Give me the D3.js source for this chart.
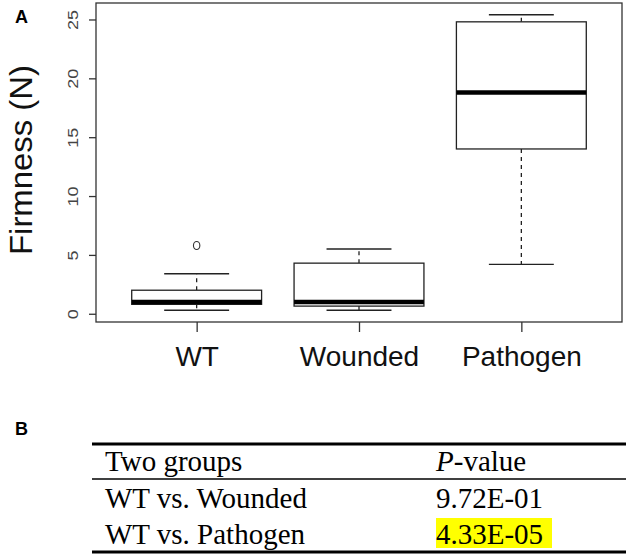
<!DOCTYPE html>
<html>
<head>
<meta charset="utf-8">
<script src="https://cdn.jsdelivr.net/npm/d3@7"></script>
<style>
  body { margin: 0; background: #fff; }
  svg { display: block; }
</style>
</head>
<body>
<svg id="fig" width="630" height="559"></svg>
<script>
// box plot data, Firmness in N
var groups = ["WT", "Wounded", "Pathogen"];
var whiskerLow = [0.3, 0.3, 4.2];
var q1 = [0.8, 0.65, 14.0];
var medians = [1.0, 1.0, 18.8];
var q3 = [2.0, 4.3, 24.8];
var whiskerHigh = [3.4, 5.5, 25.4];
var outliers = [[5.8], [], []];
var yTicks = [0, 5, 10, 15, 20, 25];

// table B
var tableHeader = ["Two groups", "P-value"];
var comparisons = ["WT vs. Wounded", "WT vs. Pathogen"];
var pValues = ["9.72E-01", "4.33E-05"];
var highlighted = [false, true];

var svg = d3.select("#fig");

var plotLeft = 96, plotRight = 622, plotTop = 3, plotBottom = 322;

// R style limits: positions 1..3 with 4% padding
var xScale = d3.scaleLinear()
    .domain([0.38, 3.62])
    .range([plotLeft, plotRight]);

var yScale = d3.scaleLinear()
    .domain([-0.7, 26.4])
    .range([plotBottom, plotTop]);

var boxWidth = xScale(1.8) - xScale(1);   // box width 0.8
var capWidth = boxWidth / 2;

// panel letters
svg.append("text")
    .attr("x", 15).attr("y", 23)
    .style("font-family", "Liberation Sans, Arial, sans-serif")
    .style("font-weight", "bold")
    .style("font-size", "18px")
    .text("A");

svg.append("text")
    .attr("x", 15).attr("y", 435)
    .style("font-family", "Liberation Sans, Arial, sans-serif")
    .style("font-weight", "bold")
    .style("font-size", "18px")
    .text("B");

// y axis
var yAxis = d3.axisLeft(yScale)
    .tickValues(yTicks)
    .tickSizeInner(7)
    .tickSizeOuter(0);

var yG = svg.append("g")
    .attr("transform", "translate(" + plotLeft + ",0)")
    .call(yAxis);
yG.select(".domain").remove();
yG.selectAll("line").attr("stroke", "#333").attr("stroke-width", 1.3);
yG.selectAll("text")
    .attr("x", 0)
    .attr("y", -18.5)
    .attr("dy", 0)
    .attr("transform", "rotate(-90)")
    .attr("text-anchor", "middle")
    .attr("fill", "#444")
    .style("font-family", "Liberation Sans, Arial, sans-serif")
    .style("font-size", "15px")
    .attr("textLength", function(d){ return String(d).length * 10; })
    .attr("lengthAdjust", "spacingAndGlyphs");

// x axis
var xAxis = d3.axisBottom(xScale)
    .tickValues([1, 2, 3])
    .tickFormat(function(d){ return groups[d - 1]; })
    .tickSizeInner(10)
    .tickSizeOuter(0)
    .tickPadding(14);

var xG = svg.append("g")
    .attr("transform", "translate(0," + plotBottom + ")")
    .call(xAxis);
xG.select(".domain").remove();
xG.selectAll("line").attr("stroke", "#333").attr("stroke-width", 1.3);
xG.selectAll("text")
    .attr("fill", "#111")
    .style("font-family", "Liberation Sans, Arial, sans-serif")
    .style("font-size", "28px");

// plot frame
svg.append("rect")
    .attr("x", plotLeft).attr("y", plotTop)
    .attr("width", plotRight - plotLeft)
    .attr("height", plotBottom - plotTop)
    .attr("fill", "none")
    .attr("stroke", "#333")
    .attr("stroke-width", 1.3);

// y title
svg.append("text")
    .attr("transform", "translate(32,160) rotate(-90)")
    .attr("text-anchor", "middle")
    .style("font-family", "Liberation Sans, Arial, sans-serif")
    .style("font-size", "31px")
    .attr("fill", "#111")
    .attr("textLength", 190)
    .attr("lengthAdjust", "spacingAndGlyphs")
    .text("Firmness (N)");

// boxes
var boxes = svg.append("g").attr("id", "boxes")
    .selectAll("g")
    .data(groups)
    .enter().append("g");

boxes.each(function(g, i){
    var sel = d3.select(this);
    var cx = xScale(i + 1);

    // dashed whiskers
    sel.append("line")
        .attr("x1", cx).attr("x2", cx)
        .attr("y1", yScale(q3[i])).attr("y2", yScale(whiskerHigh[i]))
        .attr("stroke", "#222").attr("stroke-width", 1.3)
        .attr("stroke-dasharray", "4,4");
    sel.append("line")
        .attr("x1", cx).attr("x2", cx)
        .attr("y1", yScale(q1[i])).attr("y2", yScale(whiskerLow[i]))
        .attr("stroke", "#222").attr("stroke-width", 1.3)
        .attr("stroke-dasharray", "4,4");

    // staples
    [whiskerLow[i], whiskerHigh[i]].forEach(function(v){
        sel.append("line")
            .attr("x1", cx - capWidth / 2).attr("x2", cx + capWidth / 2)
            .attr("y1", yScale(v)).attr("y2", yScale(v))
            .attr("stroke", "#222").attr("stroke-width", 1.3);
    });

    // box
    sel.append("rect")
        .attr("x", cx - boxWidth / 2)
        .attr("y", yScale(q3[i]))
        .attr("width", boxWidth)
        .attr("height", yScale(q1[i]) - yScale(q3[i]))
        .attr("fill", "#fff")
        .attr("stroke", "#222").attr("stroke-width", 1.3);

    // median
    sel.append("line")
        .attr("x1", cx - boxWidth / 2).attr("x2", cx + boxWidth / 2)
        .attr("y1", yScale(medians[i])).attr("y2", yScale(medians[i]))
        .attr("stroke", "#000").attr("stroke-width", 4.5);

    // outliers
    outliers[i].forEach(function(v){
        sel.append("ellipse")
            .attr("cx", cx).attr("cy", yScale(v))
            .attr("rx", 3.2).attr("ry", 4)
            .attr("fill", "none")
            .attr("stroke", "#333").attr("stroke-width", 1.1);
    });
});

// table B
var tableLeft = 92, tableRight = 626;
var col1 = 105, col2 = 436;
var serif = "Liberation Serif, Times New Roman, serif";

svg.append("line")
    .attr("x1", tableLeft).attr("x2", tableRight)
    .attr("y1", 444).attr("y2", 444)
    .attr("stroke", "#000").attr("stroke-width", 3);
svg.append("line")
    .attr("x1", tableLeft).attr("x2", tableRight)
    .attr("y1", 479).attr("y2", 479)
    .attr("stroke", "#000").attr("stroke-width", 1.6);
svg.append("line")
    .attr("x1", tableLeft).attr("x2", tableRight)
    .attr("y1", 552).attr("y2", 552)
    .attr("stroke", "#000").attr("stroke-width", 3);

svg.append("text")
    .attr("x", col1).attr("y", 471)
    .style("font-family", serif).style("font-size", "29px")
    .text(tableHeader[0]);

var pHead = svg.append("text")
    .attr("x", col2).attr("y", 471)
    .style("font-family", serif).style("font-size", "29px");
pHead.append("tspan").style("font-style", "italic").text(tableHeader[1].slice(0, 1));
pHead.append("tspan").text(tableHeader[1].slice(1));

var rowY = [508, 544];

comparisons.forEach(function(c, i){
    if (highlighted[i]) {
        svg.append("rect")
            .attr("x", col2).attr("y", rowY[i] - 26)
            .attr("width", 116).attr("height", 30)
            .attr("fill", "#ffff00");
    }
    svg.append("text")
        .attr("x", col1).attr("y", rowY[i])
        .style("font-family", serif).style("font-size", "29px")
        .text(c);
    svg.append("text")
        .attr("x", col2).attr("y", rowY[i])
        .style("font-family", serif).style("font-size", "29px")
        .text(pValues[i]);
});
</script>
</body>
</html>
